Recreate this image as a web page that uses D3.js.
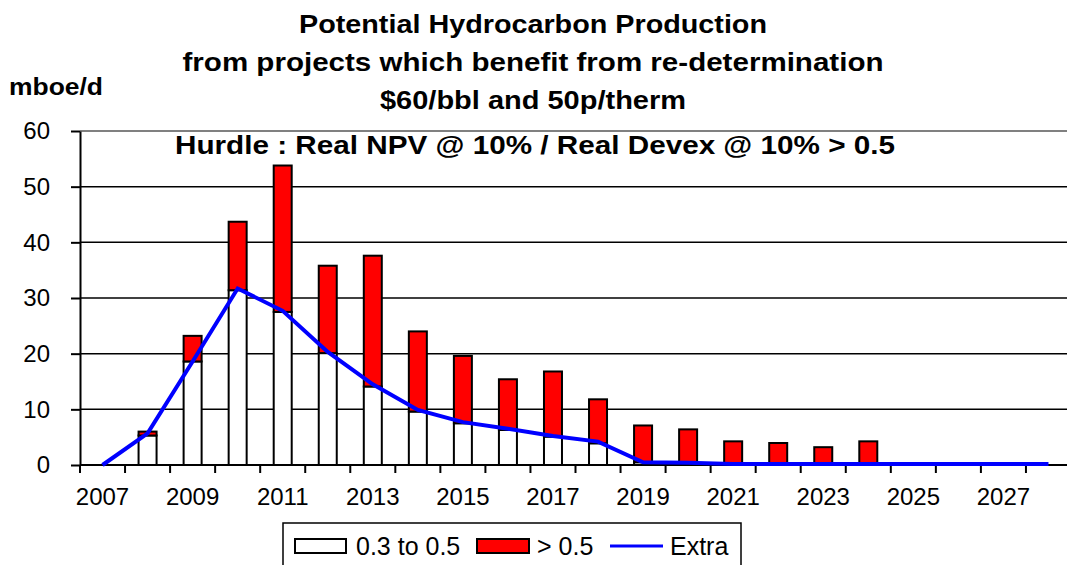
<!DOCTYPE html>
<html>
<head>
<meta charset="utf-8">
<script src="https://cdn.jsdelivr.net/npm/d3@7"></script>
<style>
  body { margin: 0; background: #fff; }
  svg { display: block; font-family: "Liberation Sans", Arial, sans-serif; }
</style>
</head>
<body>
<svg id="chart" width="1067" height="565"></svg>
<script>
// data
var years = [2007, 2008, 2009, 2010, 2011, 2012, 2013, 2014, 2015, 2016, 2017,
             2018, 2019, 2020, 2021, 2022, 2023, 2024, 2025, 2026, 2027, 2028];
var low = [0, 5.3, 18.6, 31.4, 27.5, 20.1, 14.1, 9.6, 7.5, 6.3, 5.1,
           3.9, 0.5, 0.3, 0.1, 0.1, 0.1, 0.1, 0.1, 0.1, 0.1, 0.1];
var high = [0, 0.7, 4.6, 12.3, 26.3, 15.7, 23.5, 14.4, 12.1, 9.1, 11.7,
            7.9, 6.6, 6.1, 4.15, 3.85, 3.1, 4.15, 0, 0, 0, 0];
var extra = [0, 5.7, 18.6, 31.7, 27.7, 20.3, 14.5, 9.9, 7.7, 6.5, 5.2,
             4.2, 0.5, 0.4, 0.2, 0.2, 0.2, 0.2, 0.2, 0.2, 0.2, 0.2];
var yTicks = [0, 10, 20, 30, 40, 50, 60];
var titleLines = ["Potential Hydrocarbon Production",
                  "from projects which benefit from re-determination",
                  "$60/bbl and 50p/therm"];
var subtitle = "Hurdle : Real NPV @ 10% / Real Devex @ 10% > 0.5";
var legendItems = ["0.3 to 0.5", "> 0.5", "Extra"];

var svg = d3.select("#chart");
var mLeft = 80, mRight = 1071, mTop = 131, mBottom = 465;

var x = d3.scaleBand().domain(years).range([mLeft, mRight]).padding(0);
var y = d3.scaleLinear().domain([0, 60]).range([mBottom, mTop]);
var bw = x.bandwidth();
var barW = 18;

// gridlines
svg.append("g").selectAll("line")
  .data(yTicks.filter(function(d){ return d > 0 && d < 60; }))
  .enter().append("line")
    .attr("x1", mLeft).attr("x2", 1067)
    .attr("y1", function(d){ return y(d); })
    .attr("y2", function(d){ return y(d); })
    .attr("stroke", "#000").attr("stroke-width", 1.5);

// plot area top border (grey)
svg.append("line")
  .attr("x1", mLeft).attr("x2", 1067)
  .attr("y1", y(60)).attr("y2", y(60))
  .attr("stroke", "#808080").attr("stroke-width", 2);

// bars
var bars = svg.append("g");
bars.selectAll("rect.low")
  .data(years)
  .enter().append("rect")
    .attr("class", "low")
    .attr("x", function(d){ return x(d) + (bw - barW) / 2; })
    .attr("width", barW)
    .attr("y", function(d, i){ return y(low[i]); })
    .attr("height", function(d, i){ return y(0) - y(low[i]); })
    .attr("fill", "#fff").attr("stroke", "#000").attr("stroke-width", 2)
    .style("display", function(d, i){ return low[i] > 0.2 ? null : "none"; });

bars.selectAll("rect.high")
  .data(years)
  .enter().append("rect")
    .attr("class", "high")
    .attr("x", function(d){ return x(d) + (bw - barW) / 2; })
    .attr("width", barW)
    .attr("y", function(d, i){ return y(low[i] + high[i]); })
    .attr("height", function(d, i){ return y(low[i]) - y(low[i] + high[i]); })
    .attr("fill", "#ff0000").attr("stroke", "#000").attr("stroke-width", 2)
    .style("display", function(d, i){ return high[i] > 0 ? null : "none"; });

// y axis
var yAxis = svg.append("g")
  .attr("transform", "translate(" + mLeft + ",0)")
  .call(d3.axisLeft(y).tickValues(yTicks).tickSize(9).tickPadding(21).tickSizeOuter(0));
yAxis.select(".domain").attr("stroke", "#000").attr("stroke-width", 2);
yAxis.selectAll(".tick line").attr("stroke", "#000").attr("stroke-width", 2);
yAxis.selectAll(".tick text").attr("font-size", 24).attr("fill", "#000")
  .attr("font-family", "Liberation Sans, Arial, sans-serif");

// x axis: line, ticks between categories, labels every other year
var xAxis = svg.append("g");
xAxis.append("line")
  .attr("x1", mLeft).attr("x2", 1067)
  .attr("y1", y(0)).attr("y2", y(0))
  .attr("stroke", "#000").attr("stroke-width", 2);
xAxis.selectAll("line.tick")
  .data(years)
  .enter().append("line")
    .attr("class", "tick")
    .attr("x1", function(d){ return x(d); })
    .attr("x2", function(d){ return x(d); })
    .attr("y1", y(0)).attr("y2", y(0) + 8)
    .attr("stroke", "#000").attr("stroke-width", 2);
xAxis.selectAll("text")
  .data(years.filter(function(d, i){ return i % 2 === 0; }))
  .enter().append("text")
    .attr("x", function(d){ return x(d) + bw / 2; })
    .attr("y", 505)
    .attr("text-anchor", "middle")
    .attr("font-size", 24)
    .text(function(d){ return d; });

// Extra line
var line = d3.line()
  .x(function(d, i){ return x(years[i]) + bw / 2; })
  .y(function(d){ return y(d); });
svg.append("path")
  .datum(extra)
  .attr("d", line)
  .attr("fill", "none")
  .attr("stroke", "#0000ff")
  .attr("stroke-width", 4);

// titles (widths stretched to match the picture)
var titleWidths = [468, 701, 306];
svg.append("g").selectAll("text")
  .data(titleLines)
  .enter().append("text")
    .attr("x", 533)
    .attr("y", function(d, i){ return 33 + i * 38; })
    .attr("text-anchor", "middle")
    .attr("font-size", 25)
    .attr("font-weight", "bold")
    .attr("textLength", function(d, i){ return titleWidths[i]; })
    .attr("lengthAdjust", "spacingAndGlyphs")
    .text(function(d){ return d; });

svg.append("text")
  .attr("x", 535).attr("y", 154)
  .attr("text-anchor", "middle")
  .attr("font-size", 25)
  .attr("font-weight", "bold")
  .attr("textLength", 720)
  .attr("lengthAdjust", "spacingAndGlyphs")
  .text(subtitle);

svg.append("text")
  .attr("x", 9).attr("y", 95)
  .attr("font-size", 24)
  .attr("font-weight", "bold")
  .attr("textLength", 94)
  .attr("lengthAdjust", "spacingAndGlyphs")
  .text("mboe/d");

// legend
var lg = svg.append("g");
lg.append("rect")
  .attr("x", 283).attr("y", 523)
  .attr("width", 458).attr("height", 60)
  .attr("fill", "#fff").attr("stroke", "#000").attr("stroke-width", 1.5);
lg.append("rect")
  .attr("x", 295).attr("y", 539).attr("width", 51).attr("height", 14)
  .attr("fill", "#fff").attr("stroke", "#000").attr("stroke-width", 2);
lg.append("rect")
  .attr("x", 477).attr("y", 539).attr("width", 52).attr("height", 14)
  .attr("fill", "#ff0000").attr("stroke", "#000").attr("stroke-width", 2);
lg.append("line")
  .attr("x1", 610).attr("x2", 663).attr("y1", 546).attr("y2", 546)
  .attr("stroke", "#0000ff").attr("stroke-width", 3);
lg.selectAll("text.item")
  .data(legendItems)
  .enter().append("text")
    .attr("class", "item")
    .attr("x", function(d, i){ return [356, 537, 670][i]; })
    .attr("y", 555)
    .attr("font-size", 25)
    .text(function(d){ return d; });
</script>
</body>
</html>
